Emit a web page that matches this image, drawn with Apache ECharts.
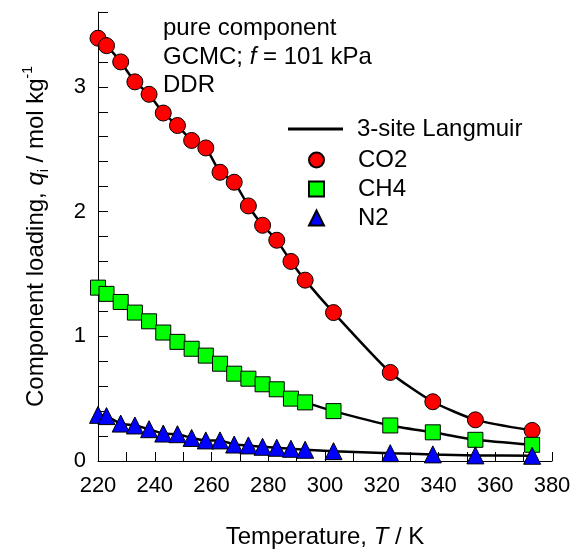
<!DOCTYPE html>
<html>
<head>
<meta charset="utf-8">
<script src="https://cdn.jsdelivr.net/npm/echarts@6/dist/echarts.min.js"></script>
<style>html,body{margin:0;padding:0;background:#fff;}#c{width:575px;height:554px;}</style>
</head>
<body>
<div id="c"></div>
<script>
// Temperatures (K)
var temps = [220,223,228,233,238,243,248,253,258,263,268,273,278,283,288,293,303,323,338,353,373];
// Component loadings (mol/kg)
var co2 = [3.39,3.33,3.20,3.04,2.94,2.79,2.69,2.57,2.51,2.315,2.235,2.045,1.89,1.77,1.60,1.45,1.19,0.71,0.475,0.33,0.245];
var ch4 = [1.39,1.34,1.275,1.19,1.12,1.03,0.955,0.90,0.845,0.78,0.70,0.66,0.615,0.575,0.50,0.47,0.40,0.285,0.23,0.17,0.13];
var n2  = [0.37,0.36,0.30,0.285,0.255,0.22,0.215,0.185,0.165,0.165,0.132,0.125,0.114,0.106,0.098,0.09,0.079,0.063,0.053,0.045,0.042];
var seriesNames = ['CO2','CH4','N2'];
var fitName = '3-site Langmuir';
var annotation = ['pure component', 'GCMC; {i|f} = 101 kPa', 'DDR'];

var FONT = 'Arial, "Liberation Sans", Helvetica, sans-serif';
function pairs(ys){ return temps.map(function(t,i){ return [t, ys[i]]; }); }

var chart = echarts.init(document.getElementById('c'), null, {renderer:'canvas'});
var markerStyles = [
  {symbol:'circle', size:16, color:'#ff0000'},
  {symbol:'rect', size:15, color:'#00ff00'},
  {symbol:'triangle', size:17, color:'#0000ff'}
];
var dataSets = [co2, ch4, n2];
var series = [];
dataSets.forEach(function(ys){
  series.push({
    name: fitName, type:'line', data: pairs(ys), smooth: 0.2, showSymbol:false, symbol:'none',
    lineStyle:{color:'#000', width:2.5}, itemStyle:{color:'#000'}, z:2, clip:false, silent:true
  });
});
dataSets.forEach(function(ys, k){
  var m = markerStyles[k];
  series.push({
    name: seriesNames[k], type:'scatter', data: pairs(ys), symbol:m.symbol, symbolSize:m.size,
    itemStyle:{color:m.color, borderColor:'#000', borderWidth:1, opacity:1}, z:3, clip:false
  });
});

var legendText = {fontSize:24, color:'#000', fontFamily:FONT};
var option = {
  animation:false,
  backgroundColor:'#fff',
  textStyle:{fontFamily:FONT, color:'#000'},
  grid:{left:98, top:12, width:454, height:453, containLabel:false},
  legend:[{
    orient:'vertical', left:288, top:117, padding:0,
    itemWidth:55, itemHeight:3, icon:'rect',
    textStyle:Object.assign({padding:[0,0,0,9]}, legendText),
    data:[fitName]
  },{
    orient:'vertical', left:308, top:148, padding:0,
    itemWidth:15, itemHeight:15, itemGap:5,
    textStyle:Object.assign({padding:[0,0,0,29]}, legendText),
    data:seriesNames
  }],
  xAxis:{
    type:'value', min:220, max:380, interval:10,
    axisLine:{lineStyle:{color:'#000', width:1}},
    axisTick:{inside:true, length:9, lineStyle:{color:'#000'}},
    axisLabel:{fontSize:22, color:'#000', fontFamily:FONT, margin:14,
      formatter:function(v){ return ((Math.round(v)-220)%20===0) ? String(Math.round(v)) : ''; }},
    splitLine:{show:false},
    name:'{a|Temperature, }{i|T}{a| / K}', nameLocation:'middle', nameGap:64,
    nameTextStyle:{rich:{a:{fontSize:24, fontFamily:FONT, color:'#000'}, i:{fontSize:24, fontStyle:'italic', fontFamily:FONT, color:'#000'}}}
  },
  yAxis:{
    type:'value', min:0, max:3.6, interval:0.2,
    axisLine:{lineStyle:{color:'#000', width:1}},
    axisTick:{inside:true, length:10, lineStyle:{color:'#000'}},
    axisLabel:{fontSize:22, color:'#000', fontFamily:FONT, margin:12,
      formatter:function(v){ return Math.abs(v-Math.round(v))<1e-6 ? String(Math.round(v)) : ''; }},
    splitLine:{show:false},
    name:'{a|Component loading, }{i|q}{s|i}{a| / mol kg}{p|-1}', nameLocation:'middle', nameGap:47, nameRotate:90,
    nameTextStyle:{rich:{
      a:{fontSize:24, fontFamily:FONT, color:'#000', lineHeight:30, verticalAlign:'middle'},
      i:{fontSize:24, fontStyle:'italic', fontFamily:FONT, color:'#000', lineHeight:30, verticalAlign:'middle'},
      s:{fontSize:14, fontFamily:FONT, color:'#000', verticalAlign:'bottom'},
      p:{fontSize:14, fontFamily:FONT, color:'#000', verticalAlign:'top'}
    }}
  },
  graphic: annotation.map(function(txt, i){
    return {type:'text', left:163, top: 28.6 + i*28.3 - 12, z:10,
      style:{text:txt, fontSize:24, fontFamily:FONT, fill:'#000',
        rich:{i:{fontSize:24, fontStyle:'italic', fontFamily:FONT, fill:'#000'}}}};
  }),
  series: series
};
chart.setOption(option);
</script>
</body>
</html>
